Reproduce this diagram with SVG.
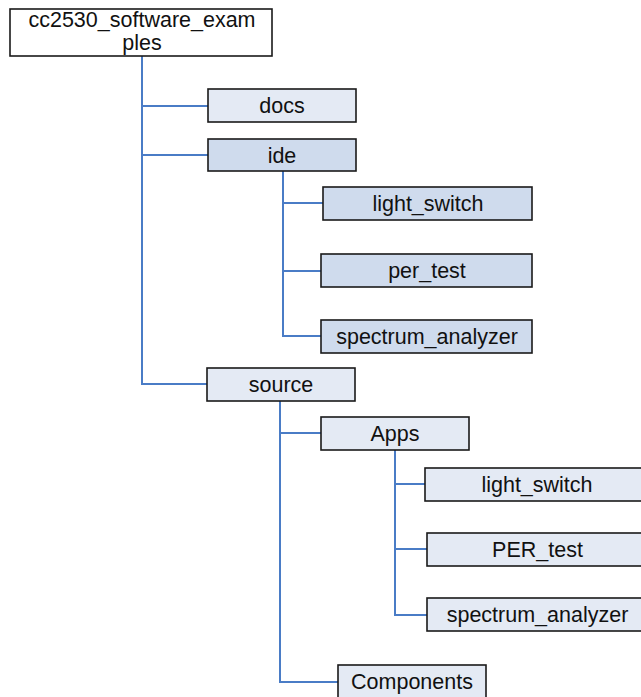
<svg xmlns="http://www.w3.org/2000/svg" width="641" height="697" viewBox="0 0 641 697">
<style>
.b{stroke:#1a1a1a;stroke-width:1.6}
.w{fill:#ffffff}
.l{fill:#e4eaf4}
.d{fill:#cfdbed}
text{font-family:"Liberation Sans",Arial,sans-serif;font-size:21.5px;fill:#111;text-anchor:middle}
.c{fill:none;stroke:#4a7cc6;stroke-width:2}
</style>
<rect width="641" height="697" fill="#ffffff"/>
<g id="connectors" class="c">
<path d="M142 56V384H207"/>
<path d="M142 106H208"/>
<path d="M142 155H208"/>
<path d="M283 171V336H321"/>
<path d="M283 203H323"/>
<path d="M283 271H321"/>
<path d="M280 401V682H338"/>
<path d="M280 433H321"/>
<path d="M395 450V615H427"/>
<path d="M395 484H425"/>
<path d="M395 549H427"/>
</g>
<g id="root"><rect class="b w" x="10" y="9" width="262" height="47"/><text x="142" y="27">cc2530_software_exam</text><text x="142" y="50">ples</text></g>
<g id="docs"><rect class="b l" x="208" y="89" width="148" height="33"/><text x="282" y="113">docs</text></g>
<g id="ide"><rect class="b d" x="208" y="139" width="148" height="32"/><text x="282" y="163">ide</text></g>
<g id="ide_light_switch"><rect class="b d" x="323" y="187" width="209" height="33"/><text x="428" y="211">light_switch</text></g>
<g id="ide_per_test"><rect class="b d" x="321" y="254" width="211" height="33"/><text x="427" y="278">per_test</text></g>
<g id="ide_spectrum_analyzer"><rect class="b d" x="321" y="320" width="211" height="33"/><text x="427" y="344">spectrum_analyzer</text></g>
<g id="source"><rect class="b l" x="207" y="368" width="148" height="33"/><text x="281" y="392">source</text></g>
<g id="apps"><rect class="b l" x="321" y="417" width="148" height="33"/><text x="395" y="441">Apps</text></g>
<g id="apps_light_switch"><rect class="b l" x="425" y="468" width="224" height="33"/><text x="537" y="492">light_switch</text></g>
<g id="apps_per_test"><rect class="b l" x="427" y="533" width="222" height="33"/><text x="537.5" y="557">PER_test</text></g>
<g id="apps_spectrum_analyzer"><rect class="b l" x="427" y="598" width="222" height="33"/><text x="537.5" y="622">spectrum_analyzer</text></g>
<g id="components"><rect class="b l" x="338" y="665" width="148" height="40"/><text x="412" y="689">Components</text></g>
</svg>
